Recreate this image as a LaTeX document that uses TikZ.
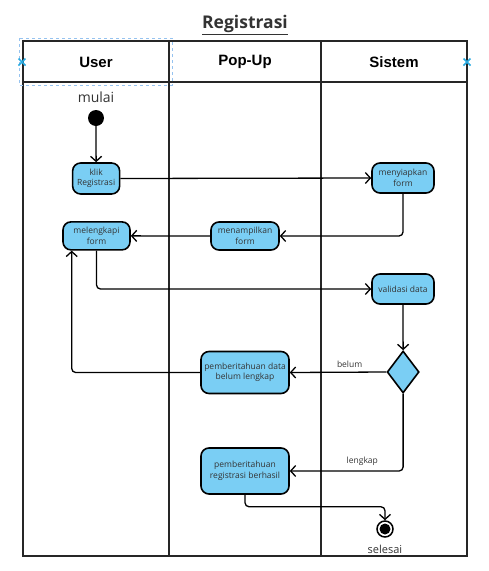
\documentclass[tikz,border=0pt]{standalone}
\usepackage{fontspec}
\setmainfont{Open Sans}
\newfontfamily\hdrfont{Liberation Sans}
\usetikzlibrary{arrows.meta,shapes.geometric,calc}
\definecolor{actfill}{RGB}{122,206,244}
\definecolor{txtgray}{RGB}{51,51,51}
\definecolor{selblue}{RGB}{150,195,240}
\definecolor{markblue}{RGB}{41,170,225}
\begin{document}
\begin{tikzpicture}[x=1pt,y=-1pt,
  act/.style={draw=black, line width=1.6pt, fill=actfill, rounded corners=8pt, align=center,
    font=\fontsize{8.5}{10.5}\selectfont, text=txtgray, inner sep=0pt},
  flow/.style={draw=black, line width=1.3pt, -{Straight Barb[length=5pt,width=11pt,line width=1.3pt]}},
  bent/.style={flow, rounded corners=4pt},
  lane/.style={draw=black!85, line width=1.6pt},
  hdr/.style={font=\hdrfont\bfseries\fontsize{15}{17}\selectfont},
  lbl/.style={font=\fontsize{8.5}{10}\selectfont, text=txtgray, inner sep=1pt}
]
\useasboundingbox (0,0) rectangle (488,571);
% swimlanes
\draw[lane] (23,41) rectangle (467,556);
\draw[lane] (23,82) -- (467,82);
\draw[lane] (169,41) -- (169,556);
\draw[lane] (321,41) -- (321,556);
% title and headers
\node[font=\bfseries\fontsize{17.5}{20}\selectfont, text=txtgray] (title) at (245,25) {\underline{Registrasi}};
\node[hdr] (huser) at (96,62) {User};
\node[hdr] (hpop) at (245,62) {Pop-Up};
\node[hdr] (hsis) at (394,62) {Sistem};
% selection marks
\draw[selblue, dashed, line width=0.9pt] (19,38) rectangle (172,85);
\draw[markblue, line width=1.5pt] (18.5,58.5) -- (25.5,65.5) (18.5,65.5) -- (25.5,58.5);
\draw[markblue, line width=1.5pt] (463.5,58.5) -- (470.5,65.5) (463.5,65.5) -- (470.5,58.5);
% start
\node[font=\fontsize{14}{16}\selectfont, text=txtgray] (mulai) at (96,97) {mulai};
\node[circle, fill=black, minimum size=16pt, inner sep=0pt] (start) at (96,118) {};
% activities
\node[act, minimum width=47pt, minimum height=31pt] (klik) at (96.12,178.5) {klik\\Registrasi};
\node[act, minimum width=62pt, minimum height=30pt] (siap) at (403,178) {menyiapkan\\form};
\node[act, minimum width=67pt, minimum height=28pt] (lengkapi) at (96.5,235.88) {melengkapi\\form};
\node[act, minimum width=68pt, minimum height=28pt] (tampil) at (245,236) {menampilkan\\form};
\node[act, minimum width=62pt, minimum height=30pt] (valid) at (403,289) {validasi data};
\node[diamond, draw=black, line width=1.6pt, fill=actfill, minimum width=32pt, minimum height=42pt, inner sep=0pt] (dec) at (403.12,372) {};
\node[act, minimum width=88pt, minimum height=42pt] (belumbox) at (245,372.5) {pemberitahuan data\\belum lengkap};
\node[act, minimum width=88pt, minimum height=46pt] (berhasil) at (245,471) {pemberitahuan\\registrasi berhasil};
% end
\node[circle, draw=black, line width=1.5pt, minimum size=16pt, inner sep=0pt] (end) at (385,529) {};
\fill[black] (end.center) circle (5.5pt);
\node[font=\fontsize{11}{13}\selectfont, text=txtgray] (selesai) at (385,549) {selesai};
% flows
\draw[flow] (start.south) -- (klik.north);
\draw[flow] (klik.east) -- (siap.west);
\draw[bent] (siap.south) |- (tampil.east);
\draw[flow] (tampil.west) -- (lengkapi.east);
\draw[bent] (lengkapi.south) |- (valid.west);
\draw[flow] (valid.south) -- (dec.north);
\draw[flow] (dec.west) -- node[lbl, pos=0.38, above=3pt] {belum} (belumbox.east);
\draw[bent] (belumbox.west) -| ($(lengkapi.south west)+(9.5,0)$);
\draw[bent] (dec.south) |- node[lbl, pos=0.68, above=4pt] {lengkap} (berhasil.east);
\draw[bent] (berhasil.south) |- ($(end.north)+(0,-13.5)$) -- (end.north);
\end{tikzpicture}
\end{document}
